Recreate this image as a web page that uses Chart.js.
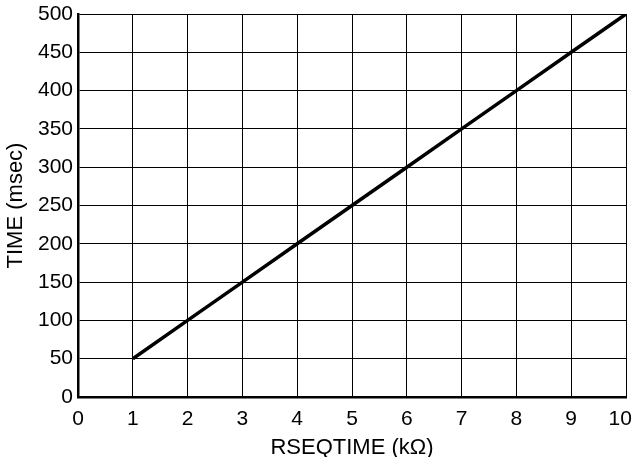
<!DOCTYPE html>
<html><head><meta charset="utf-8">
<script src="https://cdn.jsdelivr.net/npm/chart.js@4/dist/chart.umd.min.js"></script>
<style>html,body{margin:0;padding:0;background:#fff}#w{width:631px;height:457px}</style>
</head><body><div id="w"><canvas id="c" width="631" height="457"></canvas></div>
<script>
const xValues = [1, 2, 3, 4, 5, 6, 7, 8, 9, 10];
const timeValues = [50, 100, 150, 200, 250, 300, 350, 400, 450, 500];
const xTitle = 'RSEQTIME (kΩ)';
const yTitle = 'TIME (msec)';
const fam = '"Liberation Sans", Arial, Helvetica, sans-serif';
const tickFont = {family: fam, size: 21};
const titleFont = {family: fam, size: 22, lineHeight: 1};

new Chart(document.getElementById('c'), {
  type: 'line',
  data: {datasets: [{
    data: xValues.map((x, i) => ({x: x, y: timeValues[i]})),
    borderColor: '#000', borderWidth: 3.5, pointRadius: 0, tension: 0, fill: false
  }]},
  options: {
    responsive: false, animation: false,
    layout: {padding: {top: 14, right: 5, left: 0, bottom: 0}},
    plugins: {legend: {display: false}, tooltip: {enabled: false}},
    scales: {
      x: {type: 'linear', min: 0, max: 10,
        ticks: {stepSize: 1, color: '#000', font: tickFont, padding: 10, maxRotation: 0,
          callback: v => v === 10 ? v + '  ' : String(v)},
        grid: {color: '#000', lineWidth: 1, drawTicks: false},
        border: {color: '#000', width: 2.5},
        title: {display: true, text: xTitle, color: '#000', font: titleFont, padding: {top: 0, bottom: -2}},
        afterFit: s => { s.height = 60; s.paddingLeft = 0; s.paddingRight = 0; }
      },
      y: {min: 0, max: 500,
        ticks: {stepSize: 50, color: '#000', font: tickFont, padding: 5},
        grid: {color: '#000', lineWidth: 1, drawTicks: false},
        border: {color: '#000', width: 2.5},
        title: {display: true, text: yTitle, color: '#000', font: titleFont, padding: {top: 5, bottom: 0}},
        afterFit: s => { s.width = 78; s.paddingTop = 0; s.paddingBottom = 0; }
      }
    }
  }
});
</script></body></html>
